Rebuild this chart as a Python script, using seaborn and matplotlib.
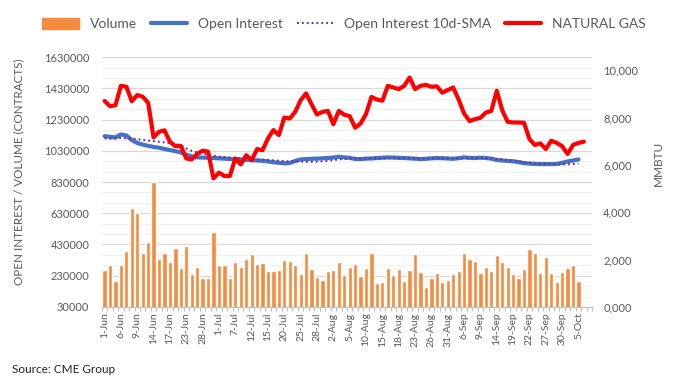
import numpy as np
import pandas as pd
import seaborn as sns
import matplotlib.pyplot as plt
from matplotlib.patches import Patch
from matplotlib.lines import Line2D

# trading days 1-Jun .. 7-Oct (CME holidays removed)
days = pd.bdate_range("2022-06-01", "2022-10-07")
days = days[~days.isin(pd.to_datetime(["2022-06-20", "2022-07-04", "2022-09-05"]))]
labels = [f"{d.day}-{d.strftime('%b')}" for d in days]

volume = [265000, 300000, 196000, 300000, 388000, 664000, 632000, 376000, 446000, 828000,
          337000, 376000, 316000, 408000, 278000, 420000, 241000, 284000, 216000, 216000,
          510000, 300000, 300000, 216000, 316000, 283000, 337000, 369000, 305000, 310000,
          260000, 260000, 269000, 331000, 325000, 299000, 241000, 376000, 273000, 222000,
          203000, 260000, 267000, 318000, 235000, 286000, 303000, 228000, 280000, 376000,
          184000, 190000, 280000, 235000, 273000, 196000, 267000, 369000, 254000, 158000,
          216000, 248000, 190000, 203000, 241000, 260000, 376000, 337000, 325000, 248000,
          286000, 260000, 363000, 318000, 286000, 241000, 216000, 273000, 401000, 376000,
          248000, 350000, 248000, 190000, 254000, 280000, 299000, 196000]

open_interest = [1124000, 1120000, 1116000, 1135000, 1128000, 1099000, 1080000, 1070000, 1062000, 1055000,
                 1050000, 1042000, 1035000, 1028000, 1020000, 1005000, 995000, 988000, 987000, 986000,
                 984000, 982000, 980000, 978000, 977000, 975000, 972000, 970000, 968000, 966000,
                 962000, 957000, 953000, 950000, 952000, 965000, 975000, 977000, 979000, 980000,
                 982000, 984000, 987000, 992000, 988000, 985000, 978000, 977000, 980000, 981000,
                 984000, 986000, 988000, 987000, 985000, 984000, 982000, 980000, 977000, 979000,
                 982000, 984000, 983000, 981000, 979000, 983000, 988000, 985000, 984000, 986000,
                 984000, 980000, 971000, 968000, 965000, 963000, 958000, 951000, 948000, 946000,
                 945000, 945000, 945000, 946000, 953000, 962000, 968000, 975000]

oi_sma = [1110000, 1108000, 1109000, 1112000, 1110000, 1108000, 1105000, 1100000, 1096000, 1092000,
          1088000, 1084000, 1080000, 1075000, 1066000, 1045000, 1030000, 1020000, 1012000, 1006000,
          998000, 993000, 990000, 987000, 984000, 982000, 980000, 977000, 975000, 973000,
          971000, 969000, 967000, 964000, 963000, 962000, 961000, 960000, 960000, 961000,
          963000, 966000, 970000, 975000, 978000, 980000, 981000, 981000, 981000, 981000,
          981000, 982000, 982000, 983000, 983000, 983000, 983000, 983000, 982000, 981000,
          981000, 981000, 981000, 981000, 981000, 982000, 983000, 983000, 983000, 984000,
          983000, 981000, 978000, 975000, 971000, 967000, 962000, 958000, 954000, 950000,
          947000, 945000, 944000, 943000, 943000, 944000, 945000, 948000]

nat_gas = [8700, 8480, 8520, 9340, 9300, 8690, 8950, 8880, 8620, 7160,
           7400, 7460, 6975, 6790, 6800, 6270, 6230, 6460, 6600, 6560,
           5430, 5670, 5530, 5530, 6270, 6020, 6410, 6200, 6670, 6620,
           7120, 7470, 7260, 8000, 7960, 8240, 8730, 9020, 8560, 8130,
           8240, 8280, 7720, 8280, 8120, 8060, 7570, 7750, 8150, 8870,
           8760, 8710, 9340, 9270, 9200, 9340, 9690, 9200, 9340, 9380,
           9300, 9320, 9050, 9160, 9270, 8760, 8170, 7850, 7930, 7990,
           8210, 8280, 9130, 8310, 7820, 7790, 7790, 7780, 7090, 6840,
           6910, 6670, 7020, 6930, 6790, 6460, 6840, 6930, 6980]

left_ticks = list(range(30000, 1630001, 200000))
right_ticks = [0, 2000, 4000, 6000, 8000, 10000]
right_labels = ["0,000", "2,000", "4,000", "6,000", "8,000", "10,000"]

sns.set_theme(style="white")
plt.rcParams["font.family"] = ["Lato", "DejaVu Sans"]
grey = "#595959"

vol_df = pd.DataFrame({"day": labels, "volume": volume + [np.nan] * (len(labels) - len(volume))})

fig = plt.figure(figsize=(6.79, 3.89), dpi=100)
ax = fig.add_axes([0.150, 0.211, 0.722, 0.642])

sns.barplot(data=vol_df, x="day", y="volume", order=labels, color="#F58B3D",
            saturation=1, width=0.78, ax=ax, zorder=2)
sns.lineplot(x=np.arange(len(open_interest)), y=open_interest, color="#4472C4",
             linewidth=3, ax=ax, zorder=3)
sns.lineplot(x=np.arange(len(oi_sma)), y=oi_sma, color="#7030A0",
             linewidth=1.4, linestyle=(0, (1, 1.5)), ax=ax, zorder=4)

ax.set_xlim(-0.5, len(labels) - 0.5)
ax.set_ylim(30000, 1630000)
ax.set_yticks(left_ticks)
ax.set_yticklabels([str(v) for v in left_ticks])
ax.set_yticks(np.arange(30000, 1630000, 200000 / 3), minor=True)
ax.grid(axis="y", which="major", color="#d9d9d9", linewidth=0.9, zorder=0)
ax.grid(axis="y", which="minor", color="#efefef", linewidth=0.8, zorder=0)
ax.set_axisbelow(True)

ax.set_xticks(range(0, len(labels), 3))
ax.set_xticklabels(labels[::3], rotation=90)
ax.set_xticks(np.arange(-0.5, len(labels), 1), minor=True)
ax.tick_params(axis="x", which="major", length=0, pad=4, labelsize=7.5, labelcolor=grey)
ax.tick_params(axis="x", which="minor", length=3, color="#bfbfbf", width=0.8, bottom=True)
ax.tick_params(axis="y", which="both", length=0, pad=9, labelsize=8, labelcolor=grey)
ax.set_xlabel("")
ax.set_ylabel("")
for s in ["top", "right", "left"]:
    ax.spines[s].set_visible(False)
ax.spines["bottom"].set_color("#bfbfbf")
ax.spines["bottom"].set_linewidth(0.8)

ax2 = ax.twinx()
sns.lineplot(x=np.arange(len(nat_gas)), y=nat_gas, color="#FF0000", linewidth=3, ax=ax2)
ax2.set_ylim(0, 10550)
ax2.set_yticks(right_ticks)
ax2.set_yticklabels(right_labels)
ax2.tick_params(axis="y", length=0, pad=8, labelsize=8, labelcolor=grey)
ax2.grid(False)
ax2.set_ylabel("")
for s in ax2.spines.values():
    s.set_visible(False)

fig.text(0.027, 0.558, "OPEN INTEREST / VOLUME (CONTRACTS)", rotation=90,
         ha="center", va="center", fontsize=8.4, color=grey)
fig.text(0.969, 0.581, "MMBTU", rotation=90, ha="center", va="center",
         fontsize=8.5, color=grey)
fig.text(0.018, 0.051, "Source: CME Group", ha="left", va="center",
         fontsize=8.5, color="#222222")

handles = [Patch(color="#F58B3D"),
           Line2D([], [], color="#4472C4", linewidth=3),
           Line2D([], [], color="#7030A0", linewidth=1.4, linestyle=(0, (1, 1.5))),
           Line2D([], [], color="#FF0000", linewidth=3)]
fig.legend(handles, ["Volume", "Open Interest", "Open Interest 10d-SMA", "NATURAL GAS"],
           loc="center", bbox_to_anchor=(0.507, 0.938), ncol=4, frameon=False,
           fontsize=10, labelcolor=grey, handlelength=2.6, handleheight=0.8,
           columnspacing=1.0, handletextpad=0.8)

fig.savefig("out.png", dpi=100)
